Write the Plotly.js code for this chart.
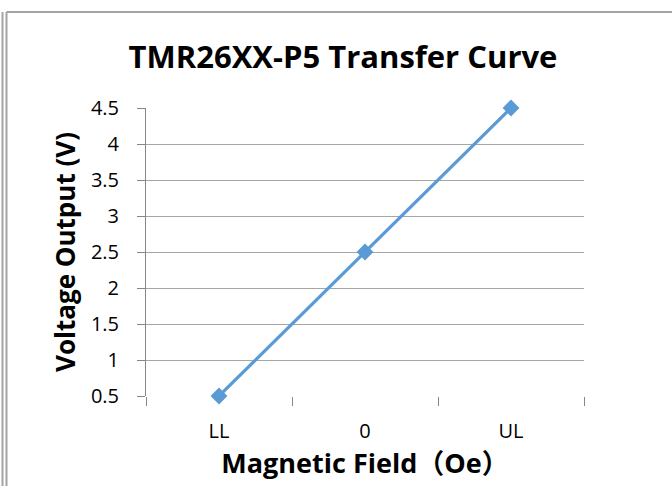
<!DOCTYPE html>
<html>
<head>
<meta charset="utf-8">
<script src="https://cdn.plot.ly/plotly-3.0.1.min.js"></script>
<style>html,body{margin:0;padding:0;background:#fff;}#chart{width:672px;height:486px;}</style>
</head>
<body>
<div id="chart"></div>
<script>
const categories = ["LL", "0", "UL"];
const voltage = [0.5, 2.5, 4.5];
const yTicks = [0.5, 1, 1.5, 2, 2.5, 3, 3.5, 4, 4.5];
const yTickLabels = ["0.5", "1", "1.5", "2", "2.5", "3", "3.5", "4", "4.5"];
const chartTitle = "TMR26XX-P5 Transfer Curve";
const xTitle = "Magnetic Field（Oe）";
const yTitle = "Voltage Output (V)";

const W = 672, H = 486, L = 146, R = 88, T = 108, B = 90;
const pw = W - L - R, ph = H - T - B;
const px = v => (v - L) / pw;
const py = v => 1 - (v - T) / ph;
const fontFam = "'Open Sans', 'Noto Sans CJK SC', sans-serif";
const frame = "#A3A3A3";

const trace = {
  x: categories,
  y: voltage,
  type: "scatter",
  mode: "lines+markers",
  line: {color: "#5B9BD5", width: 3.2},
  marker: {symbol: "diamond", size: 13, color: "#5B9BD5"},
  cliponaxis: false,
  hoverinfo: "x+y"
};

const layout = {
  width: W, height: H,
  margin: {l: L, r: R, t: T, b: B},
  paper_bgcolor: "#fff",
  plot_bgcolor: "#fff",
  showlegend: false,
  font: {family: fontFam, color: "#000"},
  title: {
    text: "<b>" + chartTitle + "</b>",
    font: {family: fontFam, size: 31, color: "#000"},
    xref: "container", x: 343 / W, xanchor: "center",
    yref: "container", y: 1 - 57 / H, yanchor: "middle"
  },
  xaxis: {
    type: "category",
    range: [-0.5, 2.5],
    tickson: "boundaries",
    ticks: "outside", ticklen: 9, tickcolor: "#868686", tickwidth: 1,
    showline: false,
    showgrid: false,
    zeroline: false,
    tickfont: {family: fontFam, size: 20, color: "#000"},
    ticklabelstandoff: 21,
    title: {text: "<b>" + xTitle + "</b>", font: {family: fontFam, size: 27, color: "#000"}, standoff: 11},
    fixedrange: true
  },
  yaxis: {
    range: [0.5, 4.5],
    tickvals: yTicks,
    ticktext: yTickLabels,
    ticks: "outside", ticklen: 8, tickcolor: "#868686", tickwidth: 1,
    showline: true, linecolor: "#868686", linewidth: 1,
    showgrid: true, gridcolor: "#A6A6A6", gridwidth: 1,
    zeroline: false,
    tickfont: {family: fontFam, size: 20, color: "#000"},
    ticklabelstandoff: 14,
    title: {text: "<b>" + yTitle + "</b>", font: {family: fontFam, size: 26, color: "#000"}, standoff: 7},
    fixedrange: true
  },
  shapes: [
    {type: "line", xref: "paper", yref: "paper", x0: px(2.5), x1: px(2.5), y0: py(12), y1: py(490), line: {color: frame, width: 2}},
    {type: "line", xref: "paper", yref: "paper", x0: px(6.5), x1: px(6.5), y0: py(12), y1: py(490), line: {color: frame, width: 2}},
    {type: "line", xref: "paper", yref: "paper", x0: px(6.5), x1: px(680), y0: py(12), y1: py(12), line: {color: frame, width: 2}}
  ]
};

Plotly.newPlot("chart", [trace], layout, {displayModeBar: false, staticPlot: true});
</script>
</body>
</html>
